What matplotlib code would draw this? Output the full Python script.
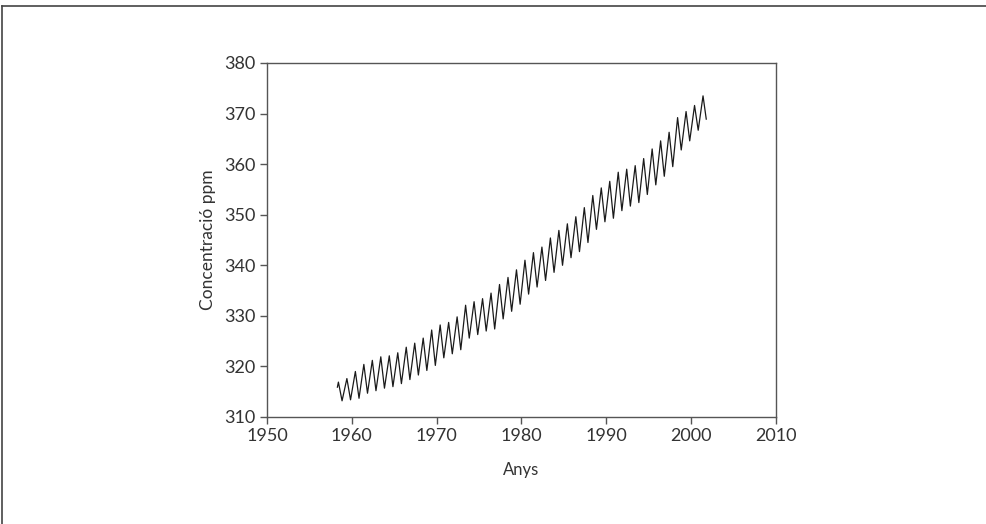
import matplotlib
matplotlib.use("Agg")
import matplotlib.pyplot as plt
from matplotlib.lines import Line2D

plt.rcParams['font.family'] = ['Lato', 'DejaVu Sans']

# Mauna Loa CO2 (ppm): one spring peak and one autumn trough per year
years = list(range(1958, 2002))
peak_ppm = [316.9, 317.6, 319.0, 320.4, 321.2, 321.9, 322.1, 322.7, 323.8, 324.6,
            325.6, 327.2, 328.2, 328.7, 329.8, 332.1, 332.8, 333.4, 334.5, 336.2,
            337.6, 339.1, 341.0, 342.5, 343.6, 345.4, 346.9, 348.2, 349.6, 351.4,
            353.8, 355.3, 356.6, 358.4, 359.0, 359.7, 361.1, 363.0, 364.6, 366.3,
            369.2, 370.4, 371.6, 373.5]
trough_ppm = [313.2, 313.4, 313.7, 314.7, 315.2, 315.7, 316.0, 316.6, 317.4, 318.3,
              319.2, 320.2, 321.7, 322.5, 323.3, 325.6, 326.3, 327.0, 327.4, 329.4,
              330.9, 332.3, 334.3, 335.7, 337.0, 338.6, 340.0, 341.5, 342.7, 344.5,
              347.1, 348.6, 349.3, 350.8, 351.7, 352.4, 354.0, 355.9, 357.6, 359.5,
              362.8, 364.6, 366.7]
start = (1958.3, 315.9)
end = (2001.8, 368.9)

t = [start[0]]
v = [start[1]]
for i, y in enumerate(years):
    t.append(y + 0.42)
    v.append(peak_ppm[i])
    if i < len(trough_ppm):
        t.append(y + 0.85)
        v.append(trough_ppm[i])
t.append(end[0])
v.append(end[1])

fig = plt.figure(figsize=(9.86, 5.24), dpi=100)
ax = fig.add_axes([0.2708, 0.2042, 0.516, 0.6756])
ax.plot(t, v, color='#1a1a1a', lw=0.9)

ax.set_xlim(1950, 2010)
ax.set_ylim(310, 380)
ax.set_xticks(range(1950, 2011, 10))
ax.set_yticks(range(310, 381, 10))
for s in ax.spines.values():
    s.set_color('#555555')
    s.set_linewidth(1.0)
ax.tick_params(direction='out', length=5, width=1, color='#555555',
               labelsize=13, labelcolor='#333333', pad=3)
ax.set_xlabel('Anys', fontsize=12, color='#333333', labelpad=13)
ax.set_ylabel('Concentració ppm', fontsize=12.5, color='#333333', labelpad=6)

# outer frame (top and left edges visible)
fig.add_artist(Line2D([0.002, 1.0], [0.989, 0.989], transform=fig.transFigure,
                      color='#444444', lw=1.2))
fig.add_artist(Line2D([0.002, 0.002], [0.0, 0.989], transform=fig.transFigure,
                      color='#444444', lw=1.2))

fig.savefig('out.png', dpi=100)
